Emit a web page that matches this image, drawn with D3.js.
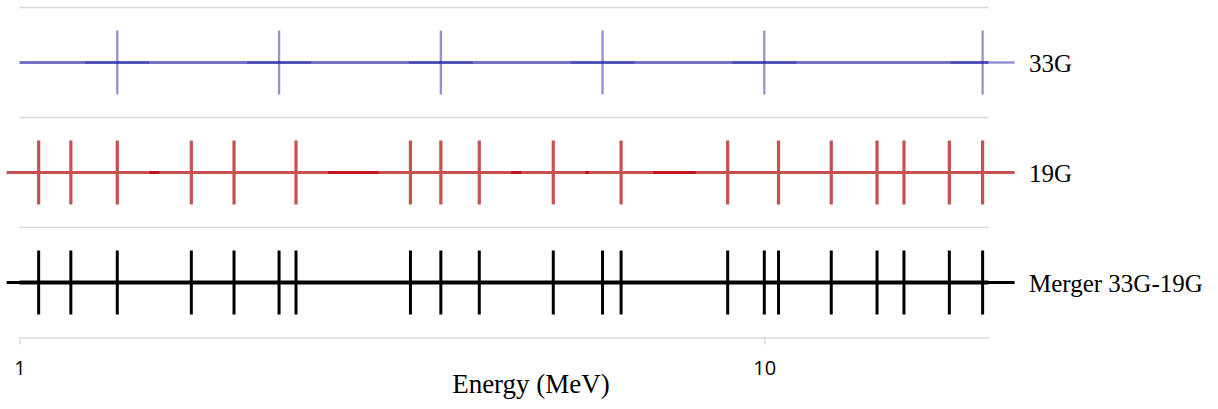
<!DOCTYPE html>
<html>
<head>
<meta charset="utf-8">
<script src="https://cdn.jsdelivr.net/npm/d3@7"></script>
<style>
    body { margin: 0; background: #fff; }
    svg { display: block; }
</style>
</head>
<body>
<script>
(function () {
    'use strict';

    // group boundaries (MeV)
    var groups33 = [1.353, 2.231, 3.679, 6.065, 10.0, 19.64];
    var groups19 = [1.061, 1.172, 1.353, 1.701, 1.941, 2.351, 3.349, 3.679, 4.143,
        5.208, 6.423, 8.93, 10.45, 12.30, 14.17, 15.40, 17.72, 19.64];
    var rowNames = ['33G', '19G', 'Merger 33G-19G'];
    var tickLabels = [1, 10];

    // merged structure = every boundary of both
    var merger = Array.from(new Set(groups33.concat(groups19))).sort(d3.ascending);

    var rows = [
        {name: rowNames[0], data: groups33, line: '#7373c9', lineW: 3, cross: 'rgba(40,40,170,0.5)', crossW: 2.3},
        {name: rowNames[1], data: groups19, line: '#c0141e', lineW: 2.8, cross: '#c85050', crossW: 3.2},
        {name: rowNames[2], data: merger, line: '#000', lineW: 4, cross: '#000', crossW: 3}
    ];

    var width = 1218, height = 409;
    var half = 32;

    var svg = d3.select('body')
        .append('svg')
        .attr('width', width)
        .attr('height', height);

    var x = d3.scaleLog()
        .domain([1, 20])
        .range([19.5, 988.5]);

    var y = d3.scaleBand()
        .domain(rowNames)
        .range([7.5, 337.5]);

    // horizontal separators
    svg.selectAll('line.grid')
        .data(rowNames)
        .enter()
        .append('line')
        .attr('class', 'grid')
        .attr('x1', x.range()[0])
        .attr('x2', x.range()[1])
        .attr('y1', function (d) { return y(d); })
        .attr('y2', function (d) { return y(d); })
        .attr('stroke', '#d9d9d9')
        .attr('stroke-width', 1.3);

    // x axis
    var axis = svg.append('g')
        .attr('transform', 'translate(0,337.5)')
        .call(d3.axisBottom(x)
            .tickValues(tickLabels)
            .tickFormat(d3.format('d'))
            .tickSize(7)
            .tickSizeOuter(0)
            .tickPadding(16));
    axis.select('.domain').attr('stroke', '#d9d9d9').attr('stroke-width', 1.3);
    axis.selectAll('.tick line').attr('stroke', '#d9d9d9').attr('stroke-width', 1.3);
    axis.selectAll('.tick text')
        .attr('fill', '#000')
        .attr('font-family', '"Open Sans", sans-serif')
        .attr('font-size', 20);

    svg.append('text')
        .attr('x', 531)
        .attr('y', 393)
        .attr('text-anchor', 'middle')
        .style('font-family', '"Liberation Serif", serif')
        .style('font-size', '27px')
        .text('Energy (MeV)');

    var row = svg.selectAll('g.row')
        .data(rows)
        .enter()
        .append('g')
        .attr('class', 'row')
        .attr('transform', function (d) {
            return 'translate(0,' + (y(d.name) + y.bandwidth() / 2) + ')';
        });

    row.append('line')
        .attr('x1', x.range()[0])
        .attr('x2', x.range()[1])
        .attr('stroke', function (d) { return d.line; })
        .attr('stroke-width', function (d) { return d.lineW; });

    // each boundary drawn as a cross
    var cross = row.selectAll('g.cross')
        .data(function (d) {
            return d.data.map(function (v) { return {v: v, r: d}; });
        })
        .enter()
        .append('g')
        .attr('class', 'cross')
        .attr('transform', function (d) { return 'translate(' + x(d.v) + ',0)'; });
    cross.append('line')
        .attr('x1', -half)
        .attr('x2', half)
        .attr('stroke', function (d) { return d.r.cross; })
        .attr('stroke-width', function (d) { return d.r.crossW; });
    cross.append('line')
        .attr('y1', -half)
        .attr('y2', half)
        .attr('stroke', function (d) { return d.r.cross; })
        .attr('stroke-width', function (d) { return d.r.crossW; });

    row.append('text')
        .attr('x', 1029)
        .attr('y', 9)
        .style('font-family', '"Liberation Serif", serif')
        .style('font-size', '25px')
        .text(function (d) { return d.name; });
}());
</script>
</body>
</html>
